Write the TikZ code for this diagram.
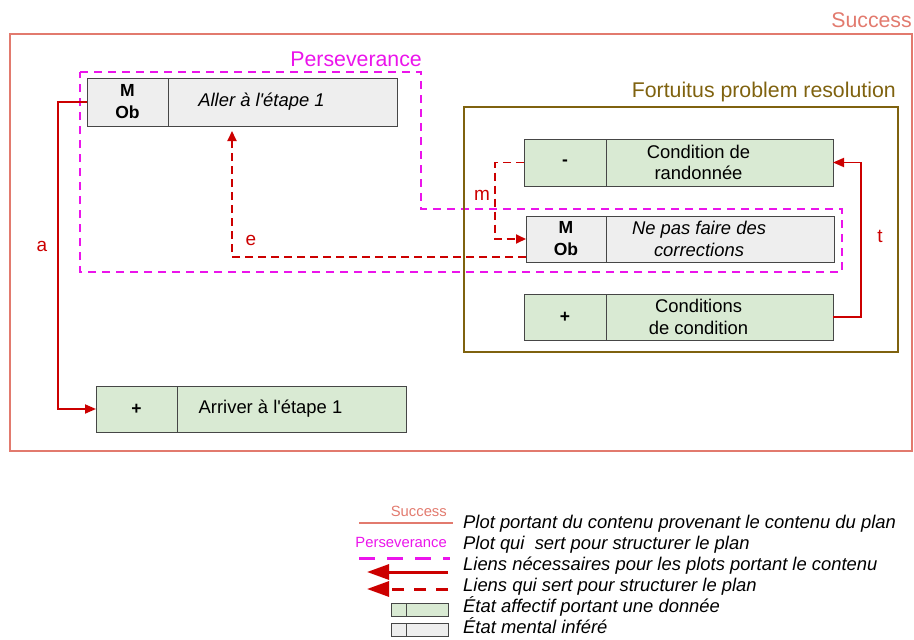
\documentclass[tikz,border=0pt]{standalone}
\usepackage{fontspec}
\setmainfont{Liberation Sans}
\usetikzlibrary{arrows.meta}
\definecolor{succ}{RGB}{226,122,110}
\definecolor{pers}{RGB}{235,20,235}
\definecolor{lnk}{RGB}{204,0,0}
\definecolor{gfill}{RGB}{217,234,211}
\definecolor{yfill}{RGB}{238,238,238}
\definecolor{boxline}{RGB}{70,70,70}
\definecolor{fort}{RGB}{127,98,15}
\begin{document}
\begin{tikzpicture}[x=1pt,y=-1pt,
  cell/.style={draw=boxline, line width=1pt, inner sep=0pt, outer sep=0pt, anchor=north west},
  gcell/.style={cell, fill=gfill},
  ycell/.style={cell, fill=yfill},
  tagtxt/.style={font=\bfseries\fontsize{17.5}{22}\selectfont, align=center},
  boxtxt/.style={font=\fontsize{18.4}{21.5}\selectfont, align=center, inner sep=0pt},
  frametitle/.style={font=\fontsize{21.3}{24}\selectfont, inner sep=0pt},
  linklabel/.style={font=\fontsize{19}{22}\selectfont, text=lnk, inner sep=0pt},
  solidlink/.style={draw=lnk, line width=1.8pt, -{Triangle[length=11pt,width=9pt]}},
  dashlink/.style={draw=lnk, line width=1.8pt, dash pattern=on 8pt off 5pt, -{Triangle[length=10pt,width=9pt]}},
  persline/.style={draw=pers, line width=2pt, dash pattern=on 8pt off 6pt},
  legtxt/.style={font=\itshape\fontsize{18.4}{21}\selectfont, anchor=base west, inner sep=0pt},
  legtag/.style={font=\fontsize{14.8}{17}\selectfont, anchor=base east, inner sep=0pt}
]
\useasboundingbox (0,0) rectangle (914,640);

% Success frame
\draw[succ, line width=1.5pt] (10,34) rectangle (912,451);
\node[frametitle, text=succ, anchor=base east] (succT) at (912,27) {Success};

% Perseverance outline
\draw[persline] (80,72) -- (421,72) -- (421,209) -- (842,209) -- (842,272) -- (80,272) -- cycle;
\node[frametitle, text=pers, anchor=base east] (persT) at (422,66) {Perseverance};

% Boxes
\node[ycell, minimum width=81, minimum height=48, tagtxt] (AllerL) at (87,78) {M\\Ob};
\node[ycell, minimum width=229, minimum height=48] (AllerR) at (168,78) {};
\node[boxtxt] (AllerT) at ([xshift=-21pt]AllerR.center) {\itshape Aller à l\textquotesingle étape 1};

\node[gcell, minimum width=81, minimum height=46, tagtxt] (ArrL) at (96,386) {+};
\node[gcell, minimum width=229, minimum height=46] (ArrR) at (177,386) {};
\node[boxtxt] (ArrT) at ([xshift=-21pt]ArrR.center) {Arriver à l\textquotesingle étape 1};

\node[gcell, minimum width=82, minimum height=47, tagtxt] (CrL) at (524,139) {-};
\node[gcell, minimum width=227, minimum height=47] (CrR) at (606,139) {};
\node[boxtxt] (CrT) at ([xshift=-21pt]CrR.center) {Condition de\\randonnée};

\node[ycell, minimum width=80, minimum height=46, tagtxt] (NpL) at (526,216) {M\\Ob};
\node[ycell, minimum width=228, minimum height=46] (NpR) at (606,216) {};
\node[boxtxt] (NpT) at ([xshift=-21pt]NpR.center) {\itshape Ne pas faire des\\\itshape corrections};

\node[gcell, minimum width=82, minimum height=46, tagtxt] (CcL) at (524,294) {+};
\node[gcell, minimum width=227, minimum height=46] (CcR) at (606,294) {};
\node[boxtxt] (CcT) at ([xshift=-21pt]CcR.center) {Conditions\\de condition};

% Connectors
\draw[solidlink] (AllerL.west) -- ++(-29,0) |- (ArrL.west);
\node[linklabel] (la) at (42,246) {a};

\coordinate (eTip) at ([xshift=64pt,yshift=-5pt]AllerR.south west);
\draw[dashlink] ([yshift=5pt]NpL.south west) -| (eTip);
\node[linklabel] (le) at (251,240) {e};

\draw[dashlink] (CrL.west) -- ++(-29,0) |- (NpL.west);
\node[linklabel] (lm) at (482,195) {m};

\draw[solidlink] (CcR.east) -- ++(28,0) |- (CrR.east);
\node[linklabel] (lt) at (880,236) {t};

% Fortuitus frame
\draw[fort, line width=2pt] (464,107) rectangle (898,352);
\node[frametitle, text=fort, anchor=base east] (fortT) at (896,97) {Fortuitus problem resolution};

% Legend
\node[legtag, text=succ] (lgS) at (447,516) {Success};
\draw[succ, line width=2pt] (359,523) -- (453,523);
\node[legtxt] (lg1) at (463,528) {Plot portant du contenu provenant le contenu du plan};

\node[legtag, text=pers] (lgP) at (447,547) {Perseverance};
\draw[pers, line width=3pt, dash pattern=on 16pt off 12pt] (359,558) -- (450,558);
\node[legtxt] (lg2) at (463,549) {Plot qui\ \ sert pour structurer le plan};

\draw[lnk, line width=3pt, -{Triangle[length=22pt,width=15pt]}] (448,572) -- (367,572);
\node[legtxt] (lg3) at (463,570) {Liens nécessaires pour les plots portant le contenu};

\draw[lnk, line width=3pt, dash pattern=on 12pt off 10pt, -{Triangle[length=22pt,width=15pt]}] (448,589) -- (367,589);
\node[legtxt] (lg4) at (463,591) {Liens qui sert pour structurer le plan};

\draw[boxline, fill=gfill, line width=0.8pt] (391,603) rectangle (448,616);
\draw[boxline, line width=0.8pt] (406,603) -- (406,616);
\node[legtxt] (lg5) at (463,612) {État affectif portant une donnée};

\draw[boxline, fill=yfill, line width=0.8pt] (391,623) rectangle (448,636);
\draw[boxline, line width=0.8pt] (406,623) -- (406,636);
\node[legtxt] (lg6) at (463,633) {État mental inféré};
\end{tikzpicture}
\end{document}
